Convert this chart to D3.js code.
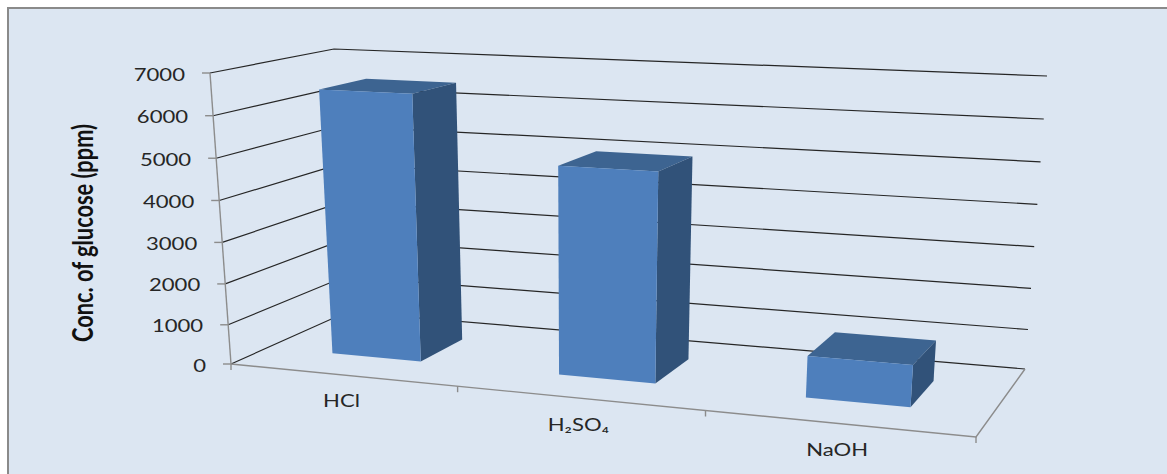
<!DOCTYPE html>
<html>
<head>
<meta charset="utf-8">
<script src="https://cdn.jsdelivr.net/npm/d3@7"></script>
<style>
html,body{margin:0;padding:0;background:#fff;overflow:hidden}
svg{display:block}
</style>
</head>
<body>
<svg id="chart" width="1167" height="474"></svg>
<script>
// Glucose yield by hydrolysing agent
const categories = ["HCl", "H₂SO₄", "NaOH"];
const glucose = [6490, 4980, 1000];
const valueTicks = [0, 1000, 2000, 3000, 4000, 5000, 6000, 7000];
const yTitle = "Conc. of glucose (ppm)";

// Screen corners of the floor and ceiling planes of the 3D box: front-left, front-right, back-right, back-left
const floorQuad = [[231,364],[976,437],[1025,369],[347,312]];
const ceilingQuad = [[210,73],[998,107.5],[1047,76],[334,49]];

// Unit square to quadrilateral projective map
function quadMap(q){
  const [p0,p1,p2,p3]=q;
  const dx1=p1[0]-p2[0], dx2=p3[0]-p2[0], sx=p0[0]-p1[0]+p2[0]-p3[0];
  const dy1=p1[1]-p2[1], dy2=p3[1]-p2[1], sy=p0[1]-p1[1]+p2[1]-p3[1];
  const den=dx1*dy2-dx2*dy1;
  const g=(sx*dy2-dx2*sy)/den, h=(dx1*sy-sx*dy1)/den;
  const a=p1[0]-p0[0]+g*p1[0], b=p3[0]-p0[0]+h*p3[0], c=p0[0];
  const d=p1[1]-p0[1]+g*p1[1], e=p3[1]-p0[1]+h*p3[1], f=p0[1];
  return (u,v)=>{const w=g*u+h*v+1;return [(a*u+b*v+c)/w,(d*u+e*v+f)/w];};
}
const floorAt = quadMap(floorQuad), ceilingAt = quadMap(ceilingQuad);

const x = d3.scaleBand().domain(categories).range([0,1]).paddingInner(0.6).paddingOuter(0.3);
const step = x.step();
const across = d3.scaleLinear().domain([0,1/3,2/3,1]).range([0,0.338,0.672,1]);
const depth = d3.scaleLinear().domain([0,1]).range([0.3,0.7]);
const y = d3.scalePow().exponent(1.03).domain([0,7000]).range([0,1]);

// Project (across, depth, value) to the screen
function project(u,d,v){
  const s=across(u), a=floorAt(s,d), b=ceilingAt(s,d), t=y(v);
  return [a[0]+(b[0]-a[0])*t, a[1]+(b[1]-a[1])*t];
}

const svg = d3.select("#chart");
const W=1167,H=474;
const line = d3.line();
const poly = pts => line(pts)+"Z";

svg.append("rect").attr("x",8).attr("y",8).attr("width",W).attr("height",H)
  .attr("fill","#dce6f2").attr("stroke","#8a8a8a").attr("stroke-width",2);

// Gridlines run along the left wall, then the back wall
const grid = svg.append("g").attr("fill","none").attr("stroke","#262626").attr("stroke-width",1.2);
valueTicks.forEach(v=>{
  grid.append("path").attr("d",line([project(0,0,v),project(0,1,v),project(1,1,v)]));
});

// Axis lines
const axes = svg.append("g").attr("fill","none").attr("stroke","#8c8c8c").attr("stroke-width",1.4);
axes.append("path").attr("d",line([project(0,0,0),project(0,0,7000)]));
axes.append("path").attr("d",line([project(1,1,0), project(1,0,0), project(0,0,0)]));
valueTicks.forEach(v=>{
  const p=project(0,0,v);
  axes.append("path").attr("d",line([[p[0]-8,p[1]],p]));
});
d3.range(categories.length+1).forEach(i=>{
  const p=project(i*step,0,0);
  axes.append("path").attr("d",line([p,[p[0],p[1]+6]]));
});

// Bars
const bars = svg.append("g").selectAll("g").data(categories).join("g");
bars.each(function(c,i){
  const g=d3.select(this), v=glucose[i];
  const u0=x(c), u1=u0+x.bandwidth(), d0=depth(0), d1=depth(1);
  g.append("path").attr("fill","#3d6491")
    .attr("d",poly([project(u0,d0,v),project(u1,d0,v),project(u1,d1,v),project(u0,d1,v)]));
  g.append("path").attr("fill","#315279")
    .attr("d",poly([project(u1,d0,0),project(u1,d1,0),project(u1,d1,v),project(u1,d0,v)]));
  g.append("path").attr("fill","#4e7fbc")
    .attr("d",poly([project(u0,d0,0),project(u1,d0,0),project(u1,d0,v),project(u0,d0,v)]));
});

// Text
const font = "Lato, 'Open Sans', sans-serif";
const labels = svg.append("g").attr("font-family",font).attr("fill","#262626");
valueTicks.forEach(v=>{
  const p=project(0,0,v);
  labels.append("text").attr("text-anchor","end")
    .attr("transform",`translate(${p[0]-25},${p[1]+7.5}) scale(1.3,1)`)
    .attr("font-size",17).text(v);
});
categories.forEach((c,i)=>{
  const p=project(x(c)+x.bandwidth()/2,0,0);
  labels.append("text").attr("text-anchor","middle")
    .attr("transform",`translate(${p[0]},${p[1]+32.5}) scale(1.3,1)`)
    .attr("font-size",17).text(c);
});
svg.append("text").attr("transform","translate(93,233) rotate(-90)")
  .attr("text-anchor","middle").attr("font-family",font).attr("font-weight",700)
  .attr("font-size",29).attr("fill","#111")
  .attr("textLength",218).attr("lengthAdjust","spacingAndGlyphs").text(yTitle);
</script>
</body>
</html>
